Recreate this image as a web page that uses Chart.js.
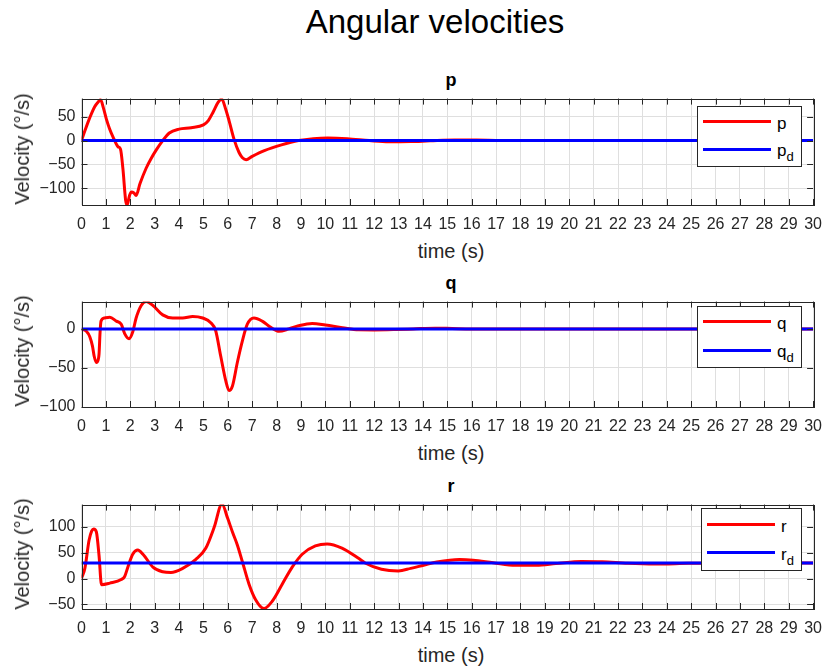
<!DOCTYPE html>
<html>
<head>
<meta charset="utf-8">
<script src="https://cdn.jsdelivr.net/npm/chart.js@4.4.0/dist/chart.umd.min.js"></script>
<style>
body { margin: 0; background: #fff; }
#fig { position: relative; width: 832px; height: 669px; font-family: "Liberation Sans", Arial, sans-serif; color: #000; overflow: hidden; }
canvas { position: absolute; left: 0; }
.txt { position: absolute; line-height: 1; white-space: nowrap; }
.titulo { font-size: 33px; left: 435px; transform: translateX(-50%); }
.sub { font-size: 18px; font-weight: bold; left: 451px; transform: translateX(-50%); }
.xlab { font-size: 20px; color: #262626; left: 451px; transform: translateX(-50%); }
.ylab { font-size: 20px; color: #262626; left: 22px; transform: translate(-50%, -50%) rotate(-90deg); }
.legenda { position: absolute; border: 1px solid #262626; background: #fff; }
.amostra { position: absolute; height: 3px; width: 68px; }
.rot { position: absolute; font-size: 17px; line-height: 1; color: #000; white-space: nowrap; }
.rot sub { font-size: 13px; position: relative; top: 5px; vertical-align: baseline; }
</style>
</head>
<body>
<div id="fig">
  <div class="txt titulo" style="top:5px">Angular velocities</div>

  <div class="txt sub" style="top:71px">p</div>
  <canvas id="grafP" width="832" height="152" style="top:83px"></canvas>
  <div class="txt xlab" style="top:241px">time (s)</div>
  <div class="txt ylab" style="top:149px">Velocity (°/s)</div>
  <div class="legenda" style="left:697px;top:106px;width:103px;height:59px">
    <div class="amostra" style="left:5px;top:13px;background:#ff0000"></div>
    <div class="rot" style="left:79px;top:8px">p</div>
    <div class="amostra" style="left:5px;top:41px;background:#0000ff"></div>
    <div class="rot" style="left:79px;top:35px">p<sub>d</sub></div>
  </div>

  <div class="txt sub" style="top:274px">q</div>
  <canvas id="grafQ" width="832" height="151" style="top:286px"></canvas>
  <div class="txt xlab" style="top:443px">time (s)</div>
  <div class="txt ylab" style="top:351px">Velocity (°/s)</div>
  <div class="legenda" style="left:697px;top:306px;width:103px;height:60px">
    <div class="amostra" style="left:5px;top:13px;background:#ff0000"></div>
    <div class="rot" style="left:79px;top:8px">q</div>
    <div class="amostra" style="left:5px;top:42px;background:#0000ff"></div>
    <div class="rot" style="left:79px;top:36px">q<sub>d</sub></div>
  </div>

  <div class="txt sub" style="top:477px">r</div>
  <canvas id="grafR" width="832" height="150" style="top:489px"></canvas>
  <div class="txt xlab" style="top:645px">time (s)</div>
  <div class="txt ylab" style="top:554px">Velocity (°/s)</div>
  <div class="legenda" style="left:701px;top:508px;width:99px;height:61px">
    <div class="amostra" style="left:5px;top:14px;background:#ff0000"></div>
    <div class="rot" style="left:79px;top:9px">r</div>
    <div class="amostra" style="left:5px;top:42px;background:#0000ff"></div>
    <div class="rot" style="left:79px;top:37px">r<sub>d</sub></div>
  </div>
</div>

<script>
// valores
const tempoP = [0, 0.15, 0.34, 0.54, 0.7, 0.78, 0.9, 1.02, 1.15, 1.29, 1.5, 1.6, 1.7, 1.81, 1.87, 1.97, 2.05, 2.15, 2.24, 2.4, 2.65, 2.85, 3.06, 3.33, 3.6, 4.0, 4.5, 5.0, 5.2, 5.4, 5.6, 5.75, 5.9, 6.05, 6.26, 6.46, 6.6, 6.75, 7.0, 7.5, 8.2, 8.9, 9.5, 10.1, 10.9, 11.8, 12.6, 13.5, 14.3, 15.3, 16.2, 17, 18, 30];
const velP = [0, 22, 48, 71, 82, 86, 68, 45, 25, 8, -13, -18, -60, -125, -135, -115, -108, -110, -115, -90, -58, -38, -20, 0, 16, 24, 27, 33, 42, 60, 80, 87, 68, 42, 2, -25, -36, -40, -33, -21, -9, 0, 4, 5.5, 4, 0, -2.5, -2, -0.5, 1, 1, 0.3, 0, 0];

const tempoQ = [0, 0.2, 0.34, 0.45, 0.52, 0.61, 0.68, 0.72, 0.76, 0.8, 0.95, 1.16, 1.43, 1.63, 1.77, 1.95, 2.1, 2.24, 2.45, 2.65, 2.93, 3.33, 3.74, 4.15, 4.56, 4.97, 5.3, 5.5, 5.71, 5.92, 6.05, 6.19, 6.39, 6.6, 6.8, 7.07, 7.41, 7.76, 8.1, 8.5, 8.9, 9.46, 10, 10.7, 11.36, 12, 12.86, 13.6, 14.5, 15.2, 16, 30];
const velQ = [0, -3, -10, -22, -35, -43, -40, -32, -5, 10, 14, 15, 10, 6, -6, -12.5, -4, 14, 30, 35, 30, 18, 14, 14, 16, 14, 8, -2, -35, -67, -79, -73, -43, -15, 6, 14, 10, 2, -3, 0, 4, 7, 5, 1.6, -1.2, -1.3, -0.8, 0, 1, 0.5, 0, 0];

const tempoR = [0, 0.14, 0.31, 0.42, 0.5, 0.61, 0.72, 0.82, 1.16, 1.63, 1.77, 1.9, 2.1, 2.31, 2.52, 2.93, 3.33, 3.67, 4.15, 4.69, 5.1, 5.44, 5.76, 5.99, 6.19, 6.39, 6.6, 6.87, 7.14, 7.48, 7.82, 8.23, 8.64, 9.05, 9.59, 10.07, 10.68, 11.36, 11.63, 12.3, 12.99, 13.5, 14.03, 14.57, 15.5, 16.06, 16.88, 17.8, 18.65, 19.45, 20.5, 21.35, 22.4, 23.5, 24.9, 26, 30];
const velR = [0, 20, 74, 92, 96, 90, 44, -12, -9, -2, 4, 22, 47, 55, 47, 22, 13, 11.5, 19.5, 37, 59, 99, 144, 117, 90, 65, 32, -11, -41, -58, -44, -11, 22, 47, 63, 67, 59, 39, 30, 18, 14.7, 19.6, 25.7, 31.8, 36.7, 35.5, 30.6, 25.7, 25.7, 28.8, 33, 32.4, 29.4, 28, 29.4, 30, 30];

const tempoRef = [0, 30];
const refP = [0, 0];
const refQ = [0, 0];
const refR = [30, 30];

const xTicks = [0, 1, 2, 3, 4, 5, 6, 7, 8, 9, 10, 11, 12, 13, 14, 15, 16, 17, 18, 19, 20, 21, 22, 23, 24, 25, 26, 27, 28, 29, 30];
const yTicksP = [-100, -50, 0, 50];
const yTicksQ = [-100, -50, 0];
const yTicksR = [-50, 0, 50, 100];

const corEixo = '#262626';
const corGrade = '#dfdfdf';

function pontos(t, v) {
    return t.map((x, i) => ({ x: x, y: v[i] }));
}

function textoTick(v) {
    return String(v).replace('-', '\u2212');
}

// caixa com marcas de escala para dentro
const caixa = {
    id: 'caixa',
    afterDraw(chart) {
        const ctx = chart.ctx;
        const a = chart.chartArea;
        const sx = chart.scales.x;
        const sy = chart.scales.y;
        ctx.save();
        ctx.strokeStyle = corEixo;
        ctx.lineWidth = 1;
        ctx.beginPath();
        sx.ticks.forEach(tk => {
            const px = Math.round(sx.getPixelForValue(tk.value)) + 0.5;
            ctx.moveTo(px, a.bottom);
            ctx.lineTo(px, a.bottom - 6);
            ctx.moveTo(px, a.top);
            ctx.lineTo(px, a.top + 6);
        });
        sy.ticks.forEach(tk => {
            const py = Math.round(sy.getPixelForValue(tk.value)) + 0.5;
            ctx.moveTo(a.left, py);
            ctx.lineTo(a.left + 6, py);
            ctx.moveTo(a.right, py);
            ctx.lineTo(a.right - 6, py);
        });
        ctx.stroke();
        ctx.strokeRect(Math.round(a.left) + 0.5, Math.round(a.top) + 0.5, Math.round(a.right - a.left), Math.round(a.bottom - a.top));
        ctx.restore();
    }
};

function criarGrafico(id, tempo, vel, ref, yTicks, yMin, yMax) {
    return new Chart(document.getElementById(id), {
        type: 'line',
        data: {
            datasets: [
                {
                    data: pontos(tempoRef, ref),
                    borderColor: '#0000ff',
                    borderWidth: 3,
                    pointRadius: 0,
                    order: 0,
                    clip: 0
                },
                {
                    data: pontos(tempo, vel),
                    borderColor: '#ff0000',
                    borderWidth: 3,
                    pointRadius: 0,
                    cubicInterpolationMode: 'monotone',
                    order: 1,
                    clip: 0
                }
            ]
        },
        options: {
            responsive: false,
            animation: false,
            devicePixelRatio: 1,
            layout: { padding: { top: 10, right: 12, left: 0, bottom: 0 } },
            plugins: { legend: { display: false }, tooltip: { enabled: false } },
            scales: {
                x: {
                    type: 'linear',
                    min: 0,
                    max: 30,
                    afterBuildTicks: s => { s.ticks = xTicks.map(v => ({ value: v })); },
                    afterFit: s => { s.height = 30; },
                    grid: { color: corGrade, drawTicks: false },
                    border: { display: false },
                    ticks: {
                        color: corEixo,
                        font: { size: 16, family: '"Liberation Sans", Arial, sans-serif' },
                        padding: 10,
                        maxRotation: 0,
                        autoSkip: false,
                        callback: textoTick
                    }
                },
                y: {
                    type: 'linear',
                    min: yMin,
                    max: yMax,
                    afterBuildTicks: s => { s.ticks = yTicks.map(v => ({ value: v })); },
                    afterFit: s => { s.width = 81.5; },
                    grid: { color: corGrade, drawTicks: false },
                    border: { display: false },
                    ticks: {
                        color: corEixo,
                        font: { size: 16, family: '"Liberation Sans", Arial, sans-serif' },
                        padding: 6,
                        callback: textoTick
                    }
                }
            }
        },
        plugins: [caixa]
    });
}

criarGrafico('grafP', tempoP, velP, refP, yTicksP, -135, 88);
criarGrafico('grafQ', tempoQ, velQ, refQ, yTicksQ, -100, 35);
criarGrafico('grafR', tempoR, velR, refR, yTicksR, -59, 143);
</script>
</body>
</html>
